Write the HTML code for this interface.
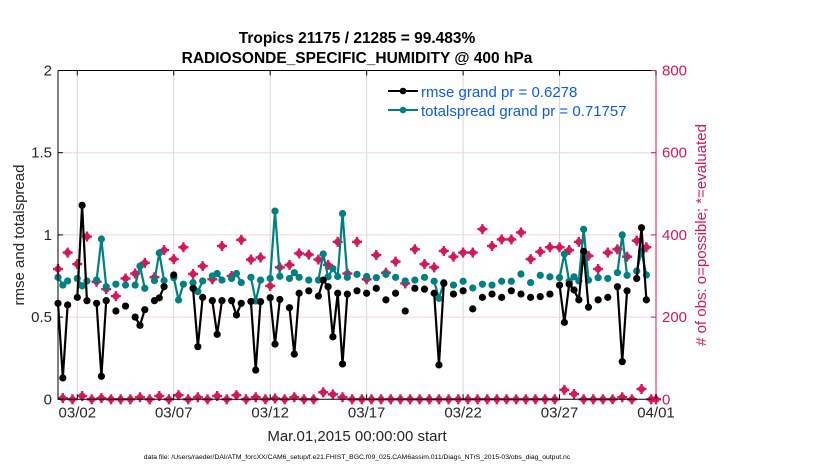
<!DOCTYPE html>
<html><head><meta charset="utf-8"><style>
body{margin:0;background:#fff;}
svg{display:block;font-family:"Liberation Sans",sans-serif;}
</style></head><body>
<svg id="chart" width="830" height="470" viewBox="0 0 830 470">
<rect x="0" y="0" width="830" height="470" fill="#fff"/>
<g id="grid"></g>
<g id="marks"></g>
<g id="axes"></g>
<text x="357" y="43" text-anchor="middle" font-size="15.5" font-weight="bold" fill="#000">Tropics 21175 / 21285 = 99.483%</text>
<text x="357" y="63" text-anchor="middle" font-size="15.5" font-weight="bold" fill="#000">RADIOSONDE_SPECIFIC_HUMIDITY @ 400 hPa</text>
<text transform="translate(24,235) rotate(-90)" text-anchor="middle" font-size="15" fill="#262626">rmse and totalspread</text>
<text transform="translate(706,235) rotate(-90)" text-anchor="middle" font-size="15" fill="#d6175a"># of obs: o=possible; *=evaluated</text>
<text x="357" y="441" text-anchor="middle" font-size="15" fill="#262626">Mar.01,2015 00:00:00 start</text>
<text x="357" y="459" text-anchor="middle" font-size="6.8" fill="#000">data file: /Users/raeder/DAI/ATM_forcXX/CAM6_setup/f.e21.FHIST_BGC.f09_025.CAM6assim.011/Diags_NTrS_2015-03/obs_diag_output.nc</text>
<g>
<g>
<line x1="388" y1="91" x2="418" y2="91" stroke="#000" stroke-width="2"/>
<circle cx="403" cy="91" r="3.3" fill="#000"/>
<text x="421" y="97" font-size="15" fill="#0a5cf0">rmse grand pr = 0.6278</text>
</g>
<g>
<line x1="388" y1="110" x2="418" y2="110" stroke="#008080" stroke-width="2"/>
<circle cx="403" cy="110" r="3.3" fill="#008080"/>
<text x="421" y="116" font-size="15" fill="#0a5cf0">totalspread grand pr = 0.71757</text>
</g>
</g>
</svg>
<script>
const xTickLabels=["03/02","03/07","03/12","03/17","03/22","03/27","04/01"];
const xTickBins=[4,24,44,64,84,104,124];
const yLeftTicks=[0,0.5,1,1.5,2];
const yRightTicks=[0,200,400,600,800];
const rmseBins=[0,1,2,4,5,6,8,9,10,12,14,16,17,18,20,21,22,24,28,29,30,32,33,34,36,37,38,40,41,42,44,45,46,48,49,50,52,54,55,56,57,58,59,60,62,64,66,68,70,72,74,76,78,79,80,82,84,86,88,90,92,94,96,98,100,102,104,105,106,107,108,109,110,112,114,116,117,118,120,121,122];
const rmseVals=[.584,.13,.574,.62,1.18,.60,.584,.14,.60,.537,.567,.50,.45,.545,.60,.617,.685,.756,.675,.32,.62,.60,.395,.60,.60,.513,.584,.595,.178,.594,.618,.336,.607,.557,.275,.645,.66,.628,.725,.685,.38,.645,.215,.64,.66,.645,.675,.605,.645,.537,.675,.67,.645,.209,.705,.64,.66,.55,.62,.64,.62,.66,.64,.62,.625,.64,.695,.468,.70,.665,.605,.9,.56,.605,.62,.685,.229,.66,.735,1.044,.605];
const spreadBins=[0,1,2,4,5,6,8,9,10,12,14,16,17,18,20,21,22,24,25,26,28,29,30,32,33,34,36,37,38,40,41,42,44,45,46,48,49,50,52,54,55,56,57,58,59,60,62,64,66,68,70,72,74,76,78,79,80,82,84,86,88,90,92,94,96,98,100,102,104,105,106,107,108,109,110,112,114,116,117,118,120,121,122];
const spreadVals=[.742,.695,.72,.735,.69,.72,.725,.975,.685,.70,.695,.695,.81,.675,.722,.89,.722,.74,.604,.70,.71,.655,.72,.75,.765,.725,.735,.765,.71,.742,.598,.725,.735,1.145,.748,.735,.77,.742,.725,.725,.884,.745,.795,.747,1.13,.742,.76,.747,.74,.76,.742,.72,.725,.742,.718,.614,.71,.695,.718,.677,.70,.695,.718,.718,.762,.71,.754,.745,.74,.884,.718,.745,.72,1.034,.725,.74,.735,.77,1.0,.754,.78,.90,.756];
const obsEven=[317,357,329,396,286,268,251,294,306,332,297,363,341,370,305,324,292,373,300,388,340,345,276,321,327,355,352,340,327,383,306,383,292,351,308,335,282,365,329,321,361,347,357,357,414,373,389,389,406,341,359,370,370,363,383,349,317,357,365,347,386,370,0];
const obsOdd=[3,0,8,0,3,0,0,0,5,0,8,0,10,0,5,0,8,0,10,0,5,0,2,0,5,0,0,17,12,5,0,0,0,0,0,0,0,0,0,0,0,0,0,0,0,0,0,0,0,0,0,0,23,13,0,0,0,0,5,0,25,0];

const NS="http://www.w3.org/2000/svg";
const X0=58,X1=656,Y0=399.3,Y1=70.5;
const xS=b=>X0+b*(X1-X0)/124;
const yL=v=>Y0-v*(Y0-Y1)/2;
const yR=v=>Y0-v*(Y0-Y1)/800;
function mk(tag,attrs,parent){const e=document.createElementNS(NS,tag);for(const k in attrs)e.setAttribute(k,attrs[k]);parent.appendChild(e);return e;}
const grid=document.getElementById('grid'),marks=document.getElementById('marks'),axes=document.getElementById('axes');
xTickBins.forEach(b=>{const l=mk('line',{x1:xS(b),x2:xS(b),y1:Y1,y2:Y0,stroke:'#d9d9d9','stroke-width':1},grid);

});
yLeftTicks.slice(1,4).forEach(v=>{const l=mk('line',{x1:X0,x2:X1,y1:yL(v),y2:yL(v),stroke:'#f7d0de','stroke-width':1},grid);

});
function star(cx,cy,parent){const g=mk('g',{fill:'#d6175a'},parent);
mk('circle',{cx:cx,cy:cy,r:3.4},g);
mk('rect',{x:cx-1.2,y:cy-5,width:2.4,height:10},g);
mk('rect',{x:cx-5,y:cy-1.2,width:10,height:2.4},g);return g;}
const obsG=mk('g',{},marks);


obsEven.forEach((v,i)=>{const s=star(xS(2*i),yR(v),obsG);

});
obsOdd.forEach((v,i)=>{const s=star(xS(2*i+1),yR(v),obsG);

});
function series(bins,vals,color,name){const g=mk('g',{},marks);


let seg=[];const segs=[];
bins.forEach((b,i)=>{if(i>0&&b!==bins[i-1]+1){segs.push(seg);seg=[];}seg.push([xS(b),yL(vals[i])]);});segs.push(seg);
segs.forEach(s=>{if(s.length>1){const p=mk('polyline',{points:s.map(q=>q.join(',')).join(' '),fill:'none',stroke:color,'stroke-width':2.2,'stroke-linejoin':'round'},g);

}});
bins.forEach((b,i)=>{const c=mk('circle',{cx:xS(b),cy:yL(vals[i]),r:3.6,fill:color},g);

});}
series(spreadBins,spreadVals,'#008080','totalspread');
series(rmseBins,rmseVals,'#000000','rmse');
const fr=mk('path',{d:`M${X0},${Y1}H${X1}M${X0},${Y1}V${Y0}H${X1}`,fill:'none',stroke:'#000','stroke-width':1},axes);


const ra=mk('line',{x1:X1,x2:X1,y1:Y1,y2:Y0,stroke:'#d6175a','stroke-width':1},axes);


xTickBins.forEach((b,i)=>{const x=xS(b);
mk('line',{x1:x,x2:x,y1:Y0,y2:Y0-5,stroke:'#000'},axes);mk('line',{x1:x,x2:x,y1:Y1,y2:Y1+5,stroke:'#000'},axes);
const t=mk('text',{x:x,y:Y0+18,'text-anchor':'middle','font-size':15,fill:'#262626'},axes);t.textContent=xTickLabels[i];

});
yLeftTicks.forEach(v=>{const y=yL(v);mk('line',{x1:X0,x2:X0+5,y1:y,y2:y,stroke:'#000'},axes);
const t=mk('text',{x:X0-6,y:y+5,'text-anchor':'end','font-size':15,fill:'#262626'},axes);t.textContent=String(v);

});
yRightTicks.forEach(v=>{const y=yR(v);mk('line',{x1:X1,x2:X1-5,y1:y,y2:y,stroke:'#d6175a'},axes);
const t=mk('text',{x:X1+6,y:y+5,'text-anchor':'start','font-size':15,fill:'#d6175a'},axes);t.textContent=String(v);

});
</script>
</body></html>
